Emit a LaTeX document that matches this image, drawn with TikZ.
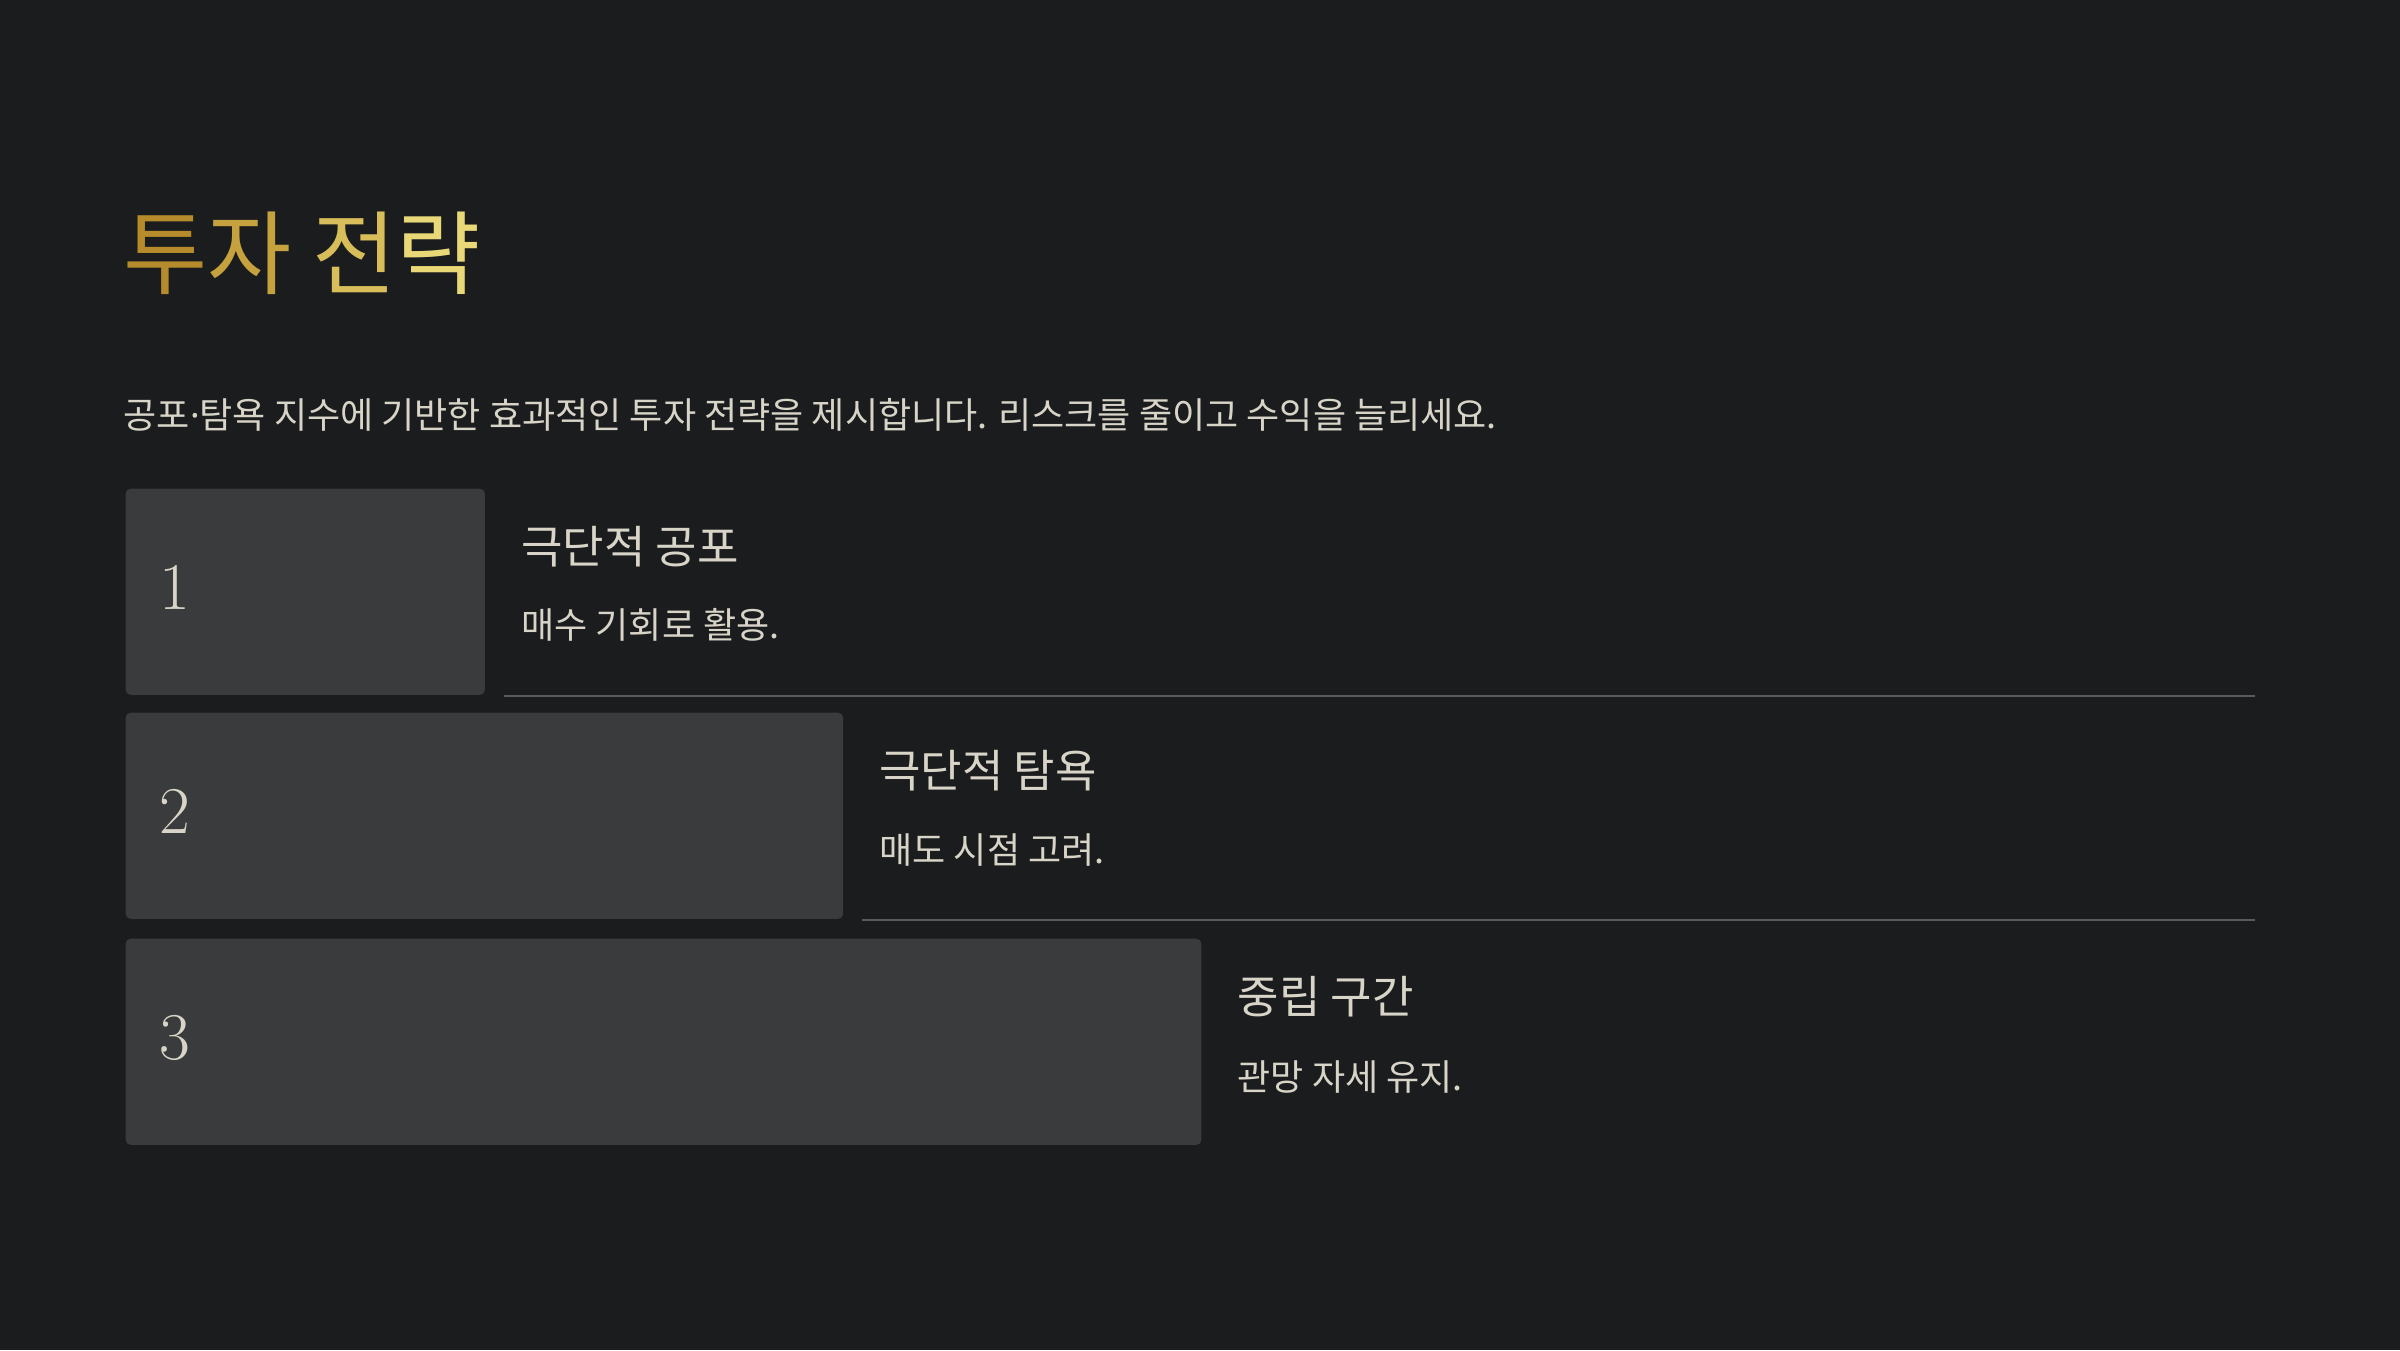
\documentclass[tikz,border=0pt]{standalone}
\usepackage{fontspec}
\newfontfamily\krfont{Noto Sans CJK KR}
\newfontfamily\dotfont{Noto Sans}
\usepackage{xcolor}
\usetikzlibrary{positioning, calc}

\definecolor{bgdark}{HTML}{1B1C1E}
\definecolor{boxgray}{HTML}{3A3B3D}
\definecolor{textlight}{HTML}{D8D4C8}
\definecolor{linegray}{HTML}{5A5A5C}
\definecolor{goldA}{HTML}{B58B2B}
\definecolor{goldB}{HTML}{C6A23E}
\definecolor{goldC}{HTML}{D8BE5A}
\definecolor{goldD}{HTML}{E8D878}

\tikzset{
  numbox/.style={fill=boxgray, rounded corners=0.05cm, minimum height=2.06cm, anchor=north west, inner sep=0},
  numlabel/.style={text=textlight, font=\fontsize{19}{19}\selectfont, anchor=west, inner sep=0},
  headtext/.style={text=textlight, font=\krfont\fontsize{12.8}{15}\selectfont, anchor=west, inner sep=0},
  desctext/.style={text=textlight, font=\krfont\fontsize{10.25}{12}\selectfont, anchor=west, inner sep=0},
  sepline/.style={draw=linegray, line width=0.02cm}
}

\begin{document}
\begin{tikzpicture}[x=0.01cm, y=-0.01cm]
      \fill[bgdark] (0,0) rectangle (2400,1350);
      \useasboundingbox (0,0) rectangle (2400,1350);
      \coordinate (rightend) at (2255,0);

      % heading
      \node[anchor=west, inner sep=0, font=\krfont\fontsize{26}{30}\selectfont] (title) at (123,253)
        {\textcolor{goldA}{투}\textcolor{goldB}{자} \textcolor{goldC}{전}\textcolor{goldD}{략}};
      \node[desctext] (intro) at (123,415) {공포{\dotfont ·}탐욕 지수에 기반한 효과적인 투자 전략을 제시합니다. 리스크를 줄이고 수익을 늘리세요.};

      % step 1
      \node[numbox, minimum width=3.59cm] (box1) at (125,488) {};
      \node[numlabel] (num1) at ([xshift=0.34cm, yshift=0.04cm]box1.west) {1};
      \node[headtext] (head1) at ($(box1.north east)+(35,59)$) {극단적 공포};
      \node[desctext] (desc1) at ($(box1.north east)+(35,137)$) {매수 기회로 활용.};
      \draw[sepline] ($(box1.south east)+(18,0)$) -- (box1.south east -| rightend);

      % step 2
      \node[numbox, minimum width=7.17cm] (box2) at (125,712) {};
      \node[numlabel] (num2) at ([xshift=0.34cm, yshift=0.04cm]box2.west) {2};
      \node[headtext] (head2) at ($(box2.north east)+(35,59)$) {극단적 탐욕};
      \node[desctext] (desc2) at ($(box2.north east)+(35,138)$) {매도 시점 고려.};
      \draw[sepline] ($(box2.south east)+(18,0)$) -- (box2.south east -| rightend);

      % step 3
      \node[numbox, minimum width=10.75cm] (box3) at (125,938) {};
      \node[numlabel] (num3) at ([xshift=0.34cm, yshift=0.04cm]box3.west) {3};
      \node[headtext] (head3) at ($(box3.north east)+(35,59)$) {중립 구간};
      \node[desctext] (desc3) at ($(box3.north east)+(35,139)$) {관망 자세 유지.};
\end{tikzpicture}
\end{document}
